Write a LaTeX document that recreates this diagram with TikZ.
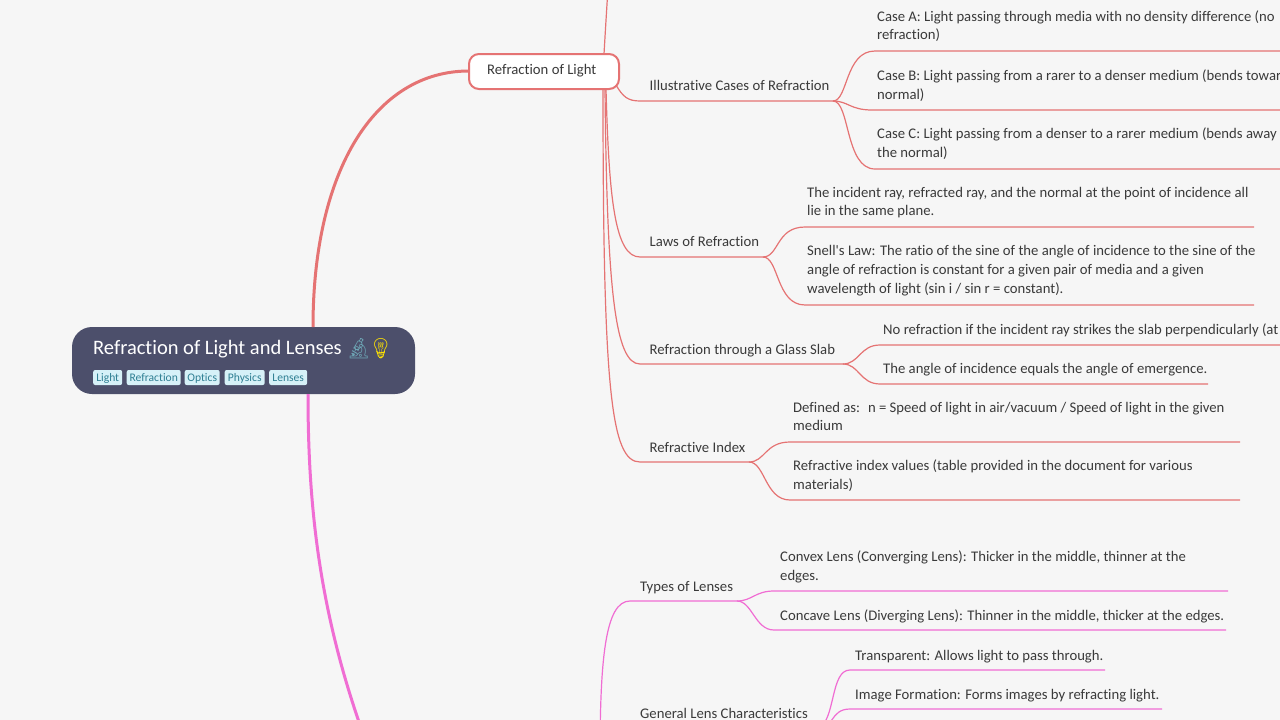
\documentclass[tikz,border=0pt]{standalone}
\usepackage{fontspec}
\setmainfont{Carlito}[Ligatures={TeXOff,NoCommon}]
\newfontfamily\emojifont{Noto Emoji}
\definecolor{pagebg}{HTML}{F6F6F6}
\definecolor{rootfill}{HTML}{4C4F6B}
\definecolor{tagfill}{HTML}{D6F1F8}
\definecolor{tagtext}{HTML}{2F7F93}
\definecolor{redline}{HTML}{E57373}
\definecolor{pinkline}{HTML}{F06DD3}
\definecolor{inktext}{HTML}{3A3A3A}
\tikzset{
  topic/.style={anchor=west,inner sep=0pt,yshift=-2pt,text=inktext,font=\fontsize{14.7}{18.6}\selectfont,align=left,execute at begin node=\strut,execute at end node=\strut},
  tagbox/.style={anchor=west,fill=tagfill,rounded corners=2pt,inner sep=0pt,minimum height=15pt,text height=10pt,text depth=2.5pt,text=tagtext,font=\fontsize{11.6}{14}\selectfont},
  redbranch/.style={draw=redline,line width=1.2pt},
  pinkbranch/.style={draw=pinkline,line width=1.2pt},
}
\begin{document}
\begin{tikzpicture}[x=1pt,y=-1pt]
\clip (0,0) rectangle (1280,720);
\fill[pagebg] (0,0) rectangle (1280,720);

\node[draw=redline,fill=white,rounded corners=10pt,line width=2pt,minimum width=150pt,minimum height=35pt,inner sep=0pt] (light) at (544,71.5){};
\node[draw=none,fill=rootfill,rounded corners=20pt,minimum width=343pt,minimum height=67pt,inner sep=0pt] (root) at (243.5,360.5){};

% main branches
\coordinate (rootN) at (313,327);
\coordinate (rootS) at (308,394);
\coordinate (lensEnd) at (385,790);
\coordinate (lightW) at (469,71);
\draw[draw=redline,line width=3pt] (rootN) .. controls (313,170) and (375,71) .. (lightW);
\draw[draw=pinkline,line width=3pt] (rootS) .. controls (308,520) and (322,640) .. (lensEnd);

\node[anchor=west,inner sep=0pt,yshift=-2pt,text=white,font=\fontsize{20.5}{24}\selectfont,execute at begin node=\strut] (title) at (93,347.5){Refraction of Light and Lenses};
\node[anchor=west,inner sep=0pt,text=tagtext!70!white,font=\fontsize{20}{22}\selectfont\emojifont] (scope) at (346,349){^^^^^^01f52c};
\node[anchor=west,inner sep=0pt,text=yellow!85!orange,font=\fontsize{20}{22}\selectfont\emojifont] (bulb) at (368,349){^^^^^^01f4a1};
\node[tagbox,minimum width=29pt] (tag1) at (93,377.5){Light};
\node[tagbox,minimum width=54pt] (tag2) at (126.5,377.5){Refraction};
\node[tagbox,minimum width=35pt] (tag3) at (184.5,377.5){Optics};
\node[tagbox,minimum width=40pt] (tag4) at (224.5,377.5){Physics};
\node[tagbox,minimum width=38pt] (tag5) at (269,377.5){Lenses};

\node[topic] (lightname) at (487,69){Refraction of Light};

% red subtopics
\coordinate (lightBR) at (616,85);
\coordinate (lightT) at (604,54);
\coordinate (lawsB) at (606,89);
\coordinate (slabB) at (605,89);
\coordinate (indexB) at (603,89);
\coordinate (prevTop) at (611,-60);
\coordinate (illusL) at (640,101);
\coordinate (illusR) at (833,101);
\coordinate (lawsL) at (640,257);
\coordinate (lawsR) at (763,257);
\coordinate (slabL) at (640,364);
\coordinate (slabR) at (843,364);
\coordinate (indexL) at (640,462);
\coordinate (indexR) at (749,462);
\node[topic] (illus) at (649.5,84.7){Illustrative Cases of Refraction};
\node[topic] (laws) at (649.5,241){Laws of Refraction};
\node[topic] (slab) at (649.5,349){Refraction through a Glass Slab};
\node[topic] (index) at (649.5,446.7){Refractive Index};
\draw[redbranch] (lightT) .. controls (606,20) .. (prevTop);
\draw[redbranch] (lightBR) .. controls (623,97) and (628,101) .. (illusL) -- (illusR);
\draw[redbranch] (lawsB) .. controls (609,200) and (615,257) .. (lawsL) -- (lawsR);
\draw[redbranch] (slabB) .. controls (607,290) and (615,364) .. (slabL) -- (slabR);
\draw[redbranch] (indexB) .. controls (603,390) and (611,462) .. (indexL) -- (indexR);

% red leaves
\coordinate (caseAL) at (875,51);
\coordinate (caseAR) at (1290,51);
\coordinate (caseBL) at (872,110);
\coordinate (caseBR) at (1290,110);
\coordinate (caseCL) at (875,169);
\coordinate (caseCR) at (1290,169);
\node[topic] (caseA) at (877,26){Case A: Light passing through media with no density difference (no\\refraction)};
\node[topic] (caseB) at (877,85.2){Case B: Light passing from a rarer to a denser medium (bends towards the\\normal)};
\node[topic] (caseC) at (877,143.7){Case C: Light passing from a denser to a rarer medium (bends away from\\the normal)};
\draw[redbranch] (illusR) .. controls (848,101) and (845,51) .. (caseAL) -- (caseAR);
\draw[redbranch] (illusR) .. controls (848,101) and (850,110) .. (caseBL) -- (caseBR);
\draw[redbranch] (illusR) .. controls (850,101) and (845,169) .. (caseCL) -- (caseCR);

\coordinate (planeL) at (805,227);
\coordinate (planeR) at (1254,227);
\coordinate (snellL) at (805,305);
\coordinate (snellR) at (1254,305);
\node[topic] (plane) at (807,202.2){The incident ray, refracted ray, and the normal at the point of incidence all\\lie in the same plane.};
\node[topic] (snell) at (807,270.2){Snell's Law: The ratio of the sine of the angle of incidence to the sine of the\\angle of refraction is constant for a given pair of media and a given\\wavelength of light (sin i / sin r = constant).};
\draw[redbranch] (lawsR) .. controls (779,257) and (776,227) .. (planeL) -- (planeR);
\draw[redbranch] (lawsR) .. controls (779,257) and (776,305) .. (snellL) -- (snellR);

\coordinate (perpL) at (880,345);
\coordinate (perpR) at (1290,345);
\coordinate (emergL) at (880,384);
\coordinate (emergR) at (1208,384);
\node[topic] (perp) at (883,329){No refraction if the incident ray strikes the slab perpendicularly (at};
\node[topic] (emerg) at (883,368){The angle of incidence equals the angle of emergence.};
\draw[redbranch] (slabR) .. controls (859,364) and (860,345) .. (perpL) -- (perpR);
\draw[redbranch] (slabR) .. controls (859,364) and (860,384) .. (emergL) -- (emergR);

\coordinate (defL) at (790,442);
\coordinate (defR) at (1240,442);
\coordinate (valuesL) at (790,500);
\coordinate (valuesR) at (1240,500);
\node[topic] (def) at (793,417.2){Defined as: \hspace{3.5pt}n = Speed of light in air/vacuum / Speed of light in the given\\medium};
\node[topic] (values) at (793,475.7){Refractive index values (table provided in the document for various\\materials)};
\draw[redbranch] (indexR) .. controls (765,462) and (765,442) .. (defL) -- (defR);
\draw[redbranch] (indexR) .. controls (765,462) and (765,500) .. (valuesL) -- (valuesR);

% pink subtopics
\coordinate (lensB) at (600,760);
\coordinate (typesL) at (630,601);
\coordinate (typesR) at (737,601);
\coordinate (generalR) at (818,729);
\node[topic] (types) at (640,586){Types of Lenses};
\node[topic] (general) at (640,713){General Lens Characteristics};
\draw[pinkbranch] (lensB) .. controls (600,660) and (605,601) .. (typesL) -- (typesR);

% pink leaves
\coordinate (convexL) at (774,591);
\coordinate (convexR) at (1228,591);
\coordinate (concaveL) at (774,630);
\coordinate (concaveR) at (1226,630);
\coordinate (transpL) at (850,670);
\coordinate (transpR) at (1105,670);
\coordinate (imageL) at (850,709);
\coordinate (imageR) at (1162,709);
\node[topic] (convex) at (780,566.2){Convex Lens (Converging Lens): Thicker in the middle, thinner at the\\edges.};
\node[topic] (concave) at (780,615){Concave Lens (Diverging Lens): Thinner in the middle, thicker at the edges.};
\node[topic] (transp) at (855,654.7){Transparent: Allows light to pass through.};
\node[topic] (image) at (855,693.7){Image Formation: Forms images by refracting light.};
\draw[pinkbranch] (typesR) .. controls (752,601) and (755,591) .. (convexL) -- (convexR);
\draw[pinkbranch] (typesR) .. controls (752,601) and (755,630) .. (concaveL) -- (concaveR);
\draw[pinkbranch] (generalR) .. controls (836,720) and (830,670) .. (transpL) -- (transpR);
\draw[pinkbranch] (generalR) .. controls (834,729) and (830,709) .. (imageL) -- (imageR);
\end{tikzpicture}
\end{document}
